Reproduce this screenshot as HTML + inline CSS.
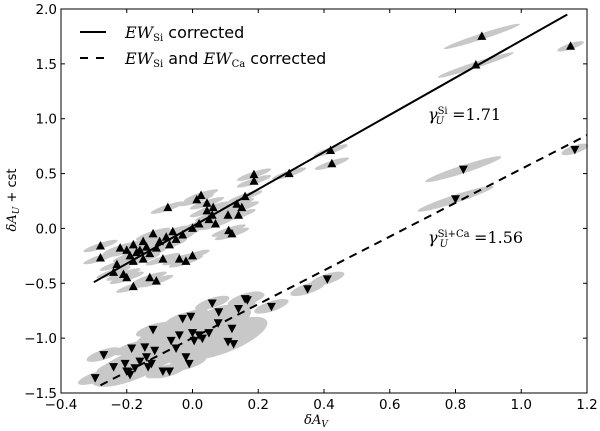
<!DOCTYPE html>
<html><head><meta charset="utf-8"><style>
body{margin:0;background:#fff;}
svg{display:block;}
text{font-family:"DejaVu Sans","Liberation Sans",sans-serif;}
.serif{font-family:"DejaVu Serif","Liberation Serif",serif;}
</style></head><body>
<svg id="chart" width="600" height="431" viewBox="0 0 600 431">
<g id="ellipses"></g>
<g id="lines"></g>
<g id="marks"></g>
<g id="axes"></g>
<g>
<line x1="80" y1="32" x2="106" y2="32" stroke="#000" stroke-width="2"/>
<text x="125" y="38" font-size="16"><tspan class="serif" font-style="italic">EW</tspan><tspan class="serif" font-size="10" dy="3">Si</tspan><tspan dy="-3"> corrected</tspan></text>
<line x1="80" y1="58" x2="106" y2="58" stroke="#000" stroke-width="2" stroke-dasharray="8,8"/>
<text x="125" y="64" font-size="16"><tspan class="serif" font-style="italic">EW</tspan><tspan class="serif" font-size="10" dy="3">Si</tspan><tspan dy="-3"> and </tspan><tspan class="serif" font-style="italic">EW</tspan><tspan class="serif" font-size="10" dy="3">Ca</tspan><tspan dy="-3"> corrected</tspan></text>
</g>
<text class="serif" x="428" y="120" font-size="16"><tspan font-style="italic">γ</tspan><tspan font-size="10" dy="-6">Si</tspan><tspan font-size="10" font-style="italic" dx="-12" dy="10">U</tspan><tspan dx="8" dy="-4">=1.71</tspan></text>
<text class="serif" x="428" y="243" font-size="16"><tspan font-style="italic">γ</tspan><tspan font-size="10" dy="-6">Si+Ca</tspan><tspan font-size="10" font-style="italic" dx="-30" dy="10">U</tspan><tspan dx="26" dy="-4">=1.56</tspan></text>
<text class="serif" x="316" y="424" font-size="13" text-anchor="middle"><tspan font-style="italic">δA</tspan><tspan font-size="9" font-style="italic" dy="3">V</tspan></text>
<text x="0" y="0" font-size="13" transform="translate(16,200) rotate(-90)" text-anchor="middle"><tspan class="serif" font-style="italic">δA</tspan><tspan class="serif" font-size="9" font-style="italic" dy="3">U</tspan><tspan dy="-3"> + cst</tspan></text>
</svg>
<script>
const xTicks=[-0.4,-0.2,0.0,0.2,0.4,0.6,0.8,1.0,1.2];
const xTickLabels=["−0.4","−0.2","0.0","0.2","0.4","0.6","0.8","1.0","1.2"];
const yTicks=[-1.5,-1.0,-0.5,0.0,0.5,1.0,1.5,2.0];
const yTickLabels=["−1.5","−1.0","−0.5","0.0","0.5","1.0","1.5","2.0"];
const upX=[-0.28,-0.28,-0.22,-0.2,-0.19,-0.18,-0.17,-0.16,-0.15,-0.14,-0.13,-0.12,-0.11,-0.1,-0.09,-0.08,-0.07,-0.06,-0.05,-0.04,-0.03,-0.02,0.0,0.0,0.02,0.05,0.07,0.11,0.12,-0.23,-0.24,-0.21,-0.2,-0.18,-0.13,-0.11,-0.15,-0.18,-0.075,0.013,0.026,0.044,0.044,0.063,0.06,0.108,0.14,0.135,0.15,0.16,0.187,0.187,0.294,0.42,0.424,0.88,0.862,1.15];
const upY=[-0.16,-0.27,-0.18,-0.2,-0.25,-0.3,-0.22,-0.2,-0.28,-0.17,-0.23,-0.05,-0.18,-0.12,-0.28,-0.08,-0.15,-0.03,-0.1,-0.28,-0.06,-0.3,-0.25,0.0,0.04,0.08,0.04,-0.02,-0.05,-0.33,-0.4,-0.42,-0.45,-0.53,-0.45,-0.48,-0.12,-0.15,0.19,0.26,0.3,0.23,0.16,0.19,0.12,0.12,0.12,0.22,0.19,0.29,0.49,0.43,0.5,0.71,0.59,1.75,1.49,1.66];
const downX=[-0.296,-0.27,-0.24,-0.205,-0.2,-0.19,-0.175,-0.16,-0.145,-0.14,-0.125,-0.12,-0.115,-0.09,-0.07,-0.065,-0.04,-0.03,-0.02,-0.01,-0.005,0.0,0.005,0.02,0.03,0.05,0.06,0.08,0.078,0.108,0.12,0.125,0.14,0.16,0.167,0.24,0.35,0.41,-0.05,-0.135,-0.185,0.824,0.8,1.163];
const downY=[-1.36,-1.15,-1.26,-1.23,-1.3,-1.33,-1.27,-1.21,-1.08,-1.17,-1.23,-0.92,-1.11,-1.3,-1.3,-1.02,-0.97,-0.82,-1.17,-1.23,-0.8,-0.95,-1.02,-0.97,-1.0,-0.95,-0.68,-0.76,-0.86,-1.03,-0.91,-1.05,-0.73,-0.64,-0.65,-0.71,-0.55,-0.46,-1.09,-1.26,-1.09,0.54,0.27,0.72];
const fitSi=[[-0.3,-0.49],[1.14,1.95]];
const fitSiCa=[[-0.28,-1.43],[1.2,0.85]];
const blobX=[-0.05,0.05,-0.12,0.1,-0.18];
const blobY=[-0.95,-0.9,-1.15,-1.0,-1.25];

const L=61,R=587,T=9,B=393;
const sx=v=>L+(v+0.4)/1.6*(R-L);
const sy=v=>B-(v+1.5)/3.5*(B-T);
const NS="http://www.w3.org/2000/svg";
function mk(tag,parent,attrs){const e=document.createElementNS(NS,tag);for(const k in attrs)e.setAttribute(k,attrs[k]);parent.appendChild(e);return e;}
const gE=document.getElementById('ellipses'),gL=document.getElementById('lines'),gM=document.getElementById('marks'),gA=document.getElementById('axes');
blobX.forEach((x,i)=>{const e=mk('ellipse',gE,{cx:sx(x),cy:sy(blobY[i]),rx:45,ry:14,fill:'#c8c8c8',transform:`rotate(-22 ${sx(x)} ${sy(blobY[i])})`});

});
upX.forEach((x,i)=>{const cx=sx(x),cy=sy(upY[i]);const e=mk('ellipse',gE,{cx:cx,cy:cy,rx:x>0.7?(x>1?14:40):18,ry:3,fill:'#c8c8c8',transform:`rotate(-18 ${cx} ${cy})`});

});
downX.forEach((x,i)=>{const cx=sx(x),cy=sy(downY[i]);const e=mk('ellipse',gE,{cx:cx,cy:cy,rx:x>0.7?(x>1?14:40):18,ry:x>0.7?4:5,fill:'#c8c8c8',transform:`rotate(-18 ${cx} ${cy})`});

});
const l1=mk('line',gL,{x1:sx(fitSi[0][0]),y1:sy(fitSi[0][1]),x2:sx(fitSi[1][0]),y2:sy(fitSi[1][1]),stroke:'#000','stroke-width':2});


const l2=mk('line',gL,{x1:sx(fitSiCa[0][0]),y1:sy(fitSiCa[0][1]),x2:sx(fitSiCa[1][0]),y2:sy(fitSiCa[1][1]),stroke:'#000','stroke-width':2,'stroke-dasharray':'8,6'});


upX.forEach((x,i)=>{const cx=sx(x),cy=sy(upY[i]);const p=mk('polygon',gM,{points:`${cx},${cy-5} ${cx-4.5},${cy+3.5} ${cx+4.5},${cy+3.5}`,fill:'#000'});

});
downX.forEach((x,i)=>{const cx=sx(x),cy=sy(downY[i]);const p=mk('polygon',gM,{points:`${cx},${cy+5} ${cx-4.5},${cy-3.5} ${cx+4.5},${cy-3.5}`,fill:'#000'});

});
const fr=mk('rect',gA,{x:L,y:T,width:R-L,height:B-T,fill:'none',stroke:'#000','stroke-width':1});


xTicks.forEach((v,i)=>{const x=sx(v);mk('line',gA,{x1:x,y1:B,x2:x,y2:B-4,stroke:'#000'});mk('line',gA,{x1:x,y1:T,x2:x,y2:T+4,stroke:'#000'});
const t=mk('text',gA,{x:x,y:B+16,'font-size':13.5,'text-anchor':'middle'});t.textContent=xTickLabels[i];

});
yTicks.forEach((v,i)=>{const y=sy(v);mk('line',gA,{x1:L,y1:y,x2:L+4,y2:y,stroke:'#000'});mk('line',gA,{x1:R,y1:y,x2:R-4,y2:y,stroke:'#000'});
const t=mk('text',gA,{x:L-4,y:y+5,'font-size':13.5,'text-anchor':'end'});t.textContent=yTickLabels[i];

});
</script>
</body></html>
